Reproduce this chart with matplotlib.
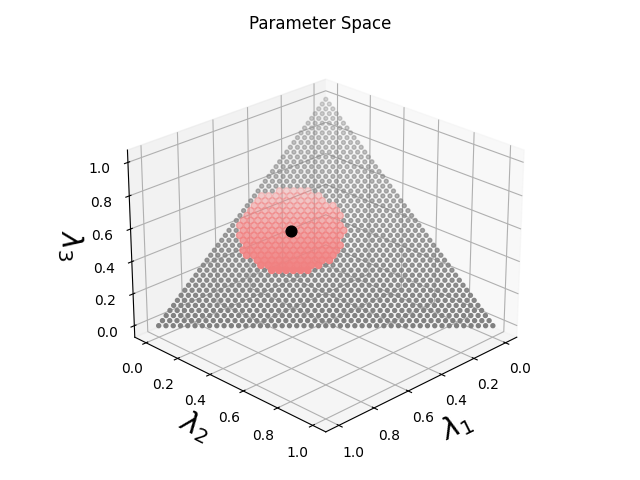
import numpy as np
import matplotlib
matplotlib.use('Agg')
import matplotlib.pyplot as plt

# lattice levels of the parameter grid
levels = [i / 46 for i in range(47)]
center = [0.4, 0.19, 0.41]
radius = 0.23
ticks = [0.0, 0.2, 0.4, 0.6, 0.8, 1.0]

grey_pts = []
red_pts = []
for a in levels:
    for b in levels:
        c = 1 - a - b
        if c < -1e-9:
            continue
        c = abs(c)
        d = np.sqrt((a - center[0])**2 + (b - center[1])**2 + (c - center[2])**2)
        if d < radius:
            red_pts.append((a, b, c))
        else:
            grey_pts.append((a, b, c))
grey_pts = np.array(grey_pts)
red_pts = np.array(red_pts)

fig = plt.figure()
ax = fig.add_subplot(111, projection='3d', computed_zorder=False)
ax.scatter(grey_pts[:, 0], grey_pts[:, 1], grey_pts[:, 2], c='gray', s=8)
ax.scatter(red_pts[:, 0], red_pts[:, 1], red_pts[:, 2], c='lightcoral', s=22)
ax.scatter([center[0]], [center[1]], [center[2]], c='black', s=60, depthshade=False)

ax.set_xticks(ticks)
ax.set_yticks(ticks)
ax.set_zticks(ticks)
ax.set_xlabel(r'$\lambda_1$', fontsize=21)
ax.set_ylabel(r'$\lambda_2$', fontsize=21)
ax.set_zlabel(r'$\lambda_3$', fontsize=21)
ax.set_title('Parameter Space')
ax.view_init(elev=25, azim=45)
fig.tight_layout()

fig.savefig('out.png', dpi=100)
